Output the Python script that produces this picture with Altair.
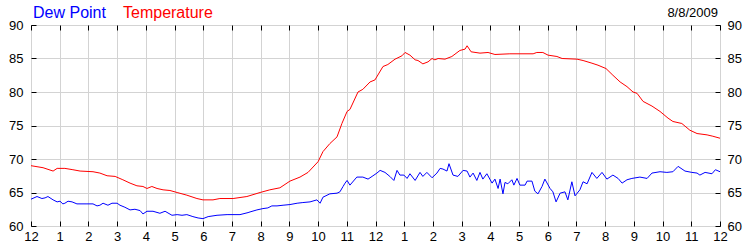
import altair as alt
import pandas as pd

# ---- data (hours after midnight, degrees F) ----
temp_hours = [0.00, 0.42, 0.77, 0.91, 1.18, 1.46, 1.71, 2.16, 2.40, 2.65, 2.93, 3.20, 3.45, 3.69,
              3.90, 4.04, 4.21, 4.39, 4.60, 4.84, 5.09, 5.43, 5.78, 5.99, 6.34, 6.58, 7.04, 7.52,
              7.98, 8.32, 8.67, 9.02, 9.37, 9.65, 10.00, 10.17, 10.41, 10.66, 10.83, 11.01, 11.11,
              11.39, 11.56, 11.81, 11.98, 12.26, 12.43, 12.68, 12.92, 13.03, 13.20, 13.38, 13.48,
              13.65, 13.83, 13.97, 14.07, 14.18, 14.42, 14.66, 14.94, 15.12, 15.19, 15.33, 15.64,
              15.92, 16.16, 16.68, 17.49, 17.62, 17.83, 18.01, 18.32, 18.50, 19.02, 19.23, 19.54,
              19.75, 20.03, 20.27, 20.52, 20.76, 20.97, 21.11, 21.32, 21.63, 21.91, 22.19, 22.36,
              22.67, 22.95, 23.20, 23.55, 23.75, 24.00]
temp_values = [69.0, 68.7, 68.2, 68.6, 68.6, 68.4, 68.2, 68.1, 67.9, 67.5, 67.4, 66.9, 66.4, 66.0,
               65.9, 65.6, 65.9, 65.6, 65.4, 65.3, 65.0, 64.6, 64.1, 63.9, 63.9, 64.1, 64.1, 64.4,
               65.0, 65.4, 65.7, 66.7, 67.3, 68.0, 69.6, 71.1, 72.3, 73.3, 75.3, 77.1, 77.4,
               80.0, 80.4, 81.5, 81.8, 83.8, 84.1, 84.9, 85.4, 85.9, 85.5, 84.8, 84.7,
               84.2, 84.5, 85.0, 84.8, 85.0, 84.9, 85.3, 86.2, 86.4, 86.9, 86.0, 85.8,
               85.9, 85.6, 85.7, 85.7, 85.9, 85.9, 85.5, 85.3, 85.0, 84.9, 84.7, 84.3,
               84.0, 83.5, 82.5, 81.5, 80.8, 80.0, 79.8, 78.6, 77.9, 77.1, 76.1, 75.6,
               75.3, 74.3, 73.8, 73.6, 73.4, 73.1]

dew_hours = [0.00, 0.21, 0.38, 0.49, 0.59, 0.77, 0.91, 1.01, 1.11, 1.18, 1.29, 1.43, 1.60, 1.95,
             2.16, 2.30, 2.40, 2.51, 2.68, 2.82, 3.00, 3.10, 3.27, 3.45, 3.62, 3.80, 3.90, 4.04,
             4.25, 4.49, 4.67, 4.91, 5.09, 5.26, 5.43, 5.64, 5.82, 5.99, 6.17, 6.48, 6.83, 7.28,
             7.56, 7.63, 7.87, 8.08, 8.25, 8.39, 8.57, 8.78, 9.02, 9.27, 9.47, 9.72, 9.96, 10.07,
             10.17, 10.41, 10.66, 10.76, 10.87, 10.94, 11.01, 11.11, 11.35, 11.56, 11.74, 11.88,
             12.05, 12.16, 12.33, 12.50, 12.64, 12.75, 12.85, 12.99, 13.10, 13.20, 13.38, 13.55,
             13.65, 13.79, 13.97, 14.14, 14.25, 14.35, 14.49, 14.56, 14.70, 14.87, 15.05, 15.19,
             15.29, 15.40, 15.53, 15.64, 15.74, 15.88, 16.06, 16.16, 16.27, 16.34, 16.44, 16.51,
             16.61, 16.75, 16.82, 16.93, 17.03, 17.21, 17.28, 17.45, 17.55, 17.66, 17.80, 17.90,
             18.08, 18.18, 18.29, 18.43, 18.60, 18.70, 18.84, 18.95, 19.12, 19.23, 19.37, 19.54,
             19.71, 19.89, 20.06, 20.27, 20.45, 20.59, 20.76, 20.93, 21.21, 21.46, 21.63, 21.91,
             22.15, 22.36, 22.54, 22.78, 23.02, 23.20, 23.30, 23.48, 23.72, 23.84, 24.00]
dew_values = [64.0, 64.4, 64.1, 64.2, 64.4, 63.9, 63.6, 63.7, 63.3, 63.4, 63.7, 63.6, 63.3, 63.3,
              63.3, 63.0, 63.1, 63.4, 63.1, 63.4, 63.4, 63.1, 62.8, 62.4, 62.5, 62.3, 61.8, 62.2,
              62.2, 61.9, 62.2, 61.6, 61.7, 61.6, 61.7, 61.4, 61.2, 61.1, 61.4, 61.6, 61.7, 61.7,
              62.0, 62.1, 62.4, 62.6, 62.7, 63.0, 63.0, 63.1, 63.2, 63.4, 63.5, 63.6, 63.9, 63.4,
              64.3, 64.8, 64.9, 65.1, 65.9, 66.4, 66.8, 66.1, 67.3, 67.3, 67.0, 67.4,
              67.9, 68.3, 68.0, 67.4, 66.8, 68.3, 67.6, 67.6, 67.1, 67.8, 66.8, 68.0,
              67.4, 68.0, 67.2, 67.9, 68.6, 68.5, 68.2, 69.3, 67.6, 67.4, 68.3, 68.2,
              67.3, 67.9, 66.8, 68.0, 67.0, 67.8, 66.4, 67.0, 65.6, 67.0, 64.8, 66.5,
              66.3, 66.9, 66.1, 67.1, 66.1, 66.1, 66.7, 66.7, 65.2, 64.8, 65.9, 67.0,
              65.6, 65.1, 63.6, 64.9, 65.1, 63.9, 66.6, 64.5, 65.4, 66.6, 66.3, 68.0,
              67.1, 68.0, 67.0, 67.6, 67.1, 66.4, 66.9, 67.1, 67.3, 67.1, 67.9, 68.1,
              68.0, 68.1, 68.9, 68.2, 68.0, 67.9, 67.6, 68.0, 67.8, 68.4, 68.1]

series_names = ["Dew Point", "Temperature"]
series_colors = ["#0000ff", "#ff0000"]
hour_ticks = list(range(0, 25))
y_ticks = [60, 65, 70, 75, 80, 85, 90]
date_label = ["8/8/2009"]

FONT = "Liberation Sans"

df = pd.concat([
    pd.DataFrame({"hour": dew_hours, "value": dew_values, "series": series_names[0]}),
    pd.DataFrame({"hour": temp_hours, "value": temp_values, "series": series_names[1]}),
], ignore_index=True)

xscale = alt.Scale(domain=[0, 24], nice=False, zero=False)
yscale = alt.Scale(domain=[60, 90], nice=False, zero=False)
label_expr = "datum.value % 12 == 0 ? '12' : '' + (datum.value % 12)"

base = alt.Chart(df)

lines = base.mark_line(strokeWidth=1, clip=True).encode(
    x=alt.X("hour:Q", scale=xscale, axis=alt.Axis(
        values=hour_ticks, labelExpr=label_expr, grid=True, gridColor="#d3d3d3",
        gridWidth=1, domain=False, ticks=False, labelPadding=4, labelFontSize=13,
        labelFont=FONT, labelColor="black", title=None, labelFlush=False)),
    y=alt.Y("value:Q", scale=yscale, axis=alt.Axis(
        values=y_ticks, grid=True, gridColor="#d3d3d3", gridWidth=1, domain=False,
        ticks=False, labelPadding=8, labelFontSize=13, labelFont=FONT,
        labelColor="black", title=None)),
    color=alt.Color("series:N", scale=alt.Scale(domain=series_names, range=series_colors),
                    legend=None),
)


def tick_axis(orient, values):
    return alt.Axis(orient=orient, offset=-5, tickSize=5, ticks=True, tickColor="black",
                    tickWidth=1, labels=False, domain=False, grid=False, values=values,
                    title=None)


def ghost(x_axis, y_axis):
    return base.mark_line(opacity=0).encode(
        x=alt.X("hour:Q", scale=xscale, axis=x_axis),
        y=alt.Y("value:Q", scale=yscale, axis=y_axis),
        detail="series:N",
    )


right_labels = ghost(
    tick_axis("top", hour_ticks),
    alt.Axis(orient="right", values=y_ticks, grid=False, domain=False, ticks=False,
             labelPadding=7, labelFontSize=13, labelFont=FONT, labelColor="black",
             title=None),
)
bottom_left_ticks = ghost(tick_axis("bottom", hour_ticks), tick_axis("left", y_ticks))
right_ticks = ghost(None, tick_axis("right", y_ticks))

title_df = pd.DataFrame({"name": series_names, "color": series_colors})
title_dew = alt.Chart(title_df.iloc[[0]]).mark_text(
    align="left", baseline="alphabetic", font=FONT, fontSize=16, color=series_colors[0]
).encode(text="name:N", x=alt.value(2), y=alt.value(-7))
title_temp = alt.Chart(title_df.iloc[[1]]).mark_text(
    align="left", baseline="alphabetic", font=FONT, fontSize=16, color=series_colors[1]
).encode(text="name:N", x=alt.value(92), y=alt.value(-7))
date_text = alt.Chart(pd.DataFrame({"d": date_label})).mark_text(
    align="right", baseline="alphabetic", font=FONT, fontSize=13, color="black"
).encode(text="d:N", x=alt.value(687), y=alt.value(-8))

chart = alt.layer(
    lines, right_labels, bottom_left_ticks, right_ticks, title_dew, title_temp, date_text
).resolve_axis(
    x="independent", y="independent"
).properties(
    width=689, height=201,
    autosize=alt.AutoSizeParams(type="none"),
    padding={"left": 31, "top": 25, "right": 30, "bottom": 24},
    background="white",
).configure_view(stroke="black", strokeWidth=1)

chart.save("out.html", embed_options={"renderer": "svg", "actions": False})
